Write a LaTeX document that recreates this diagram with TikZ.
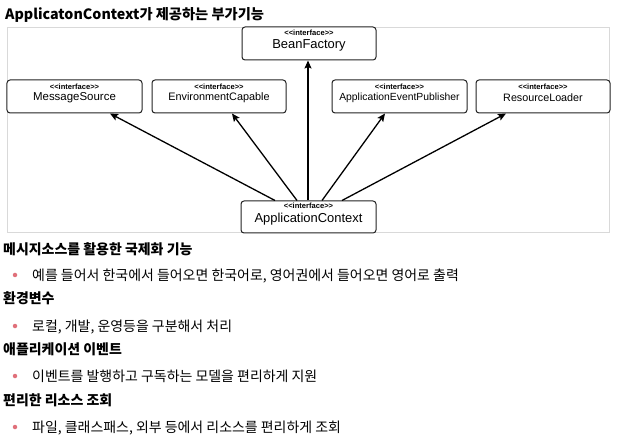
\documentclass[tikz,border=0pt]{standalone}
\usepackage{fontspec}
\setmainfont{Liberation Sans}
\newfontfamily\kr{Noto Sans CJK KR}
\usetikzlibrary{arrows.meta,calc}
\definecolor{framegray}{HTML}{D9D9D9}
\definecolor{bulletred}{HTML}{E0707A}
\definecolor{boxline}{HTML}{222222}
\newcommand{\stereotxt}{{<}{<}interface{>}{>}}
\tikzset{
  umlbox/.style={draw=boxline,line width=1bp,rounded corners=3bp,minimum height=33bp,inner sep=0pt,fill=white},
  stereo/.style={font=\fontsize{7.6}{7.6}\selectfont\bfseries,inner sep=0pt},
  bigname/.style={font=\fontsize{13}{13}\selectfont,inner sep=0pt},
  namefont/.style={font=\fontsize{#1}{#1}\selectfont,inner sep=0pt},
  arr/.style={line width=1.3bp,draw=black,-{Stealth[length=8bp,width=7bp,inset=1.5bp]}},
  heading/.style={anchor=base west,inner sep=0pt,font=\kr\bfseries\fontsize{14}{14}\selectfont},
  bullettext/.style={anchor=base west,inner sep=0pt,font=\kr\fontsize{14}{14}\selectfont},
  dot/.style={circle,fill=bulletred,inner sep=0pt,minimum size=4.5bp},
}
\begin{document}
\begin{tikzpicture}[x=1bp,y=-1bp]
\useasboundingbox (0,0) rectangle (626,441);
\fill[white] (0,0) rectangle (626,441);
% title
\node[anchor=base west,inner sep=0pt,font=\kr\bfseries\fontsize{14.3}{14.3}\selectfont] (title) at (5,19.5) {ApplicatonContext가 제공하는 부가기능};
% frame
\draw[framegray,line width=1bp] (7.5,27.5) rectangle (609.5,233);
% boxes
\node[umlbox,minimum width=134bp] (bf) at (309,43.5) {};
\node[umlbox,minimum width=135bp] (ms) at (74.5,96.5) {};
\node[umlbox,minimum width=134bp] (ec) at (219,96.5) {};
\node[umlbox,minimum width=135bp] (aep) at (399.5,96.5) {};
\node[umlbox,minimum width=134bp] (rl) at (543,96.5) {};
\node[umlbox,minimum width=135bp,minimum height=32bp] (ac) at (308.5,217) {};
% box texts
\node[stereo] (bfs) at (309,33) {\stereotxt};
\node[bigname] (bfn) at (309,45.5) {BeanFactory};
\node[stereo] (mss) at (74.5,87) {\stereotxt};
\node[namefont=11.5] (msn) at (74.5,98) {MessageSource};
\node[stereo] (ecs) at (219,87) {\stereotxt};
\node[namefont=10.9] (ecn) at (219,98) {EnvironmentCapable};
\node[stereo] (aeps) at (399.5,87) {\stereotxt};
\node[namefont=10.4] (aepn) at (399.5,98) {ApplicationEventPublisher};
\node[stereo] (rls) at (543,87) {\stereotxt};
\node[namefont=10.8] (rln) at (543,98) {ResourceLoader};
\node[stereo] (acs) at (308.5,206) {\stereotxt};
\node[bigname] (acn) at (308.5,219) {ApplicationContext};
% arrows
\draw[arr] ($(ac.north)+(-33.5,0)$) -- ($(ms.south)+(35.5,0)$);
\draw[arr] ($(ac.north)+(-11.5,0)$) -- ($(ec.south)+(13,0)$);
\draw[arr] ($(ac.north)+(-0.5,0)$) -- ($(bf.south)+(-1,0)$);
\draw[arr] ($(ac.north)+(13.5,0)$) -- ($(aep.south)+(-14.5,0)$);
\draw[arr] ($(ac.north)+(33.5,0)$) -- ($(rl.south)+(-37,0)$);
% list
\node[heading] (h1) at (3,254.5) {메시지소스를 활용한 국제화 기능};
\node[dot] (d1) at (15,275) {};
\node[bullettext] (t1) at (32,280.5) {예를 들어서 한국에서 들어오면 한국어로, 영어권에서 들어오면 영어로 출력};
\node[heading] (h2) at (3,303.5) {환경변수};
\node[dot] (d2) at (15,326) {};
\node[bullettext] (t2) at (32,331.5) {로컬, 개발, 운영등을 구분해서 처리};
\node[heading] (h3) at (3,354.5) {애플리케이션 이벤트};
\node[dot] (d3) at (15,376) {};
\node[bullettext] (t3) at (32,381.5) {이벤트를 발행하고 구독하는 모델을 편리하게 지원};
\node[heading] (h4) at (3,405.5) {편리한 리소스 조회};
\node[dot] (d4) at (15,427) {};
\node[bullettext] (t4) at (32,432.5) {파일, 클래스패스, 외부 등에서 리소스를 편리하게 조회};
\end{tikzpicture}
\end{document}
